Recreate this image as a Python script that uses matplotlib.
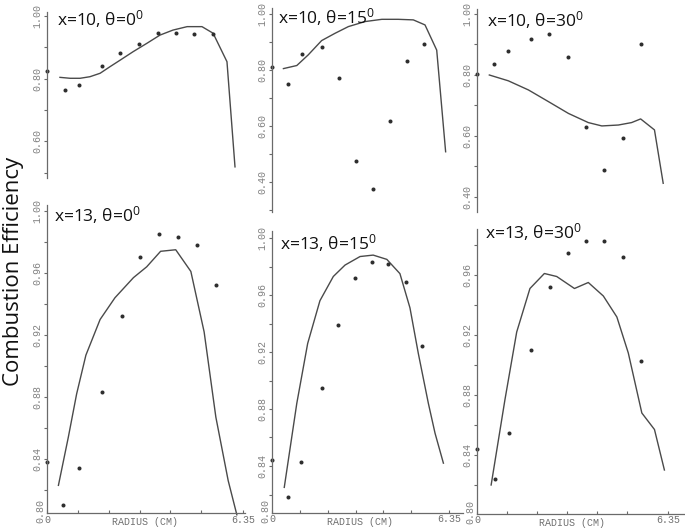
import matplotlib
matplotlib.use('Agg')
import matplotlib.pyplot as plt
from matplotlib.ticker import FixedLocator, FixedFormatter, MultipleLocator, NullFormatter

plt.rcParams['mathtext.fontset'] = 'custom'
plt.rcParams['mathtext.rm'] = 'Open Sans'
plt.rcParams['mathtext.it'] = 'Open Sans'
plt.rcParams['mathtext.bf'] = 'Open Sans'

# ---------------- data (radius in cm, combustion efficiency) ----------------
titles = ["x=10, θ=0$^{0}$", "x=10, θ=15$^{0}$", "x=10, θ=30$^{0}$",
          "x=13, θ=0$^{0}$", "x=13, θ=15$^{0}$", "x=13, θ=30$^{0}$"]

tl_pts_r = [0.0, 0.58, 1.04, 1.78, 2.37, 2.98, 3.60, 4.18, 4.76, 5.38]
tl_pts_v = [0.824, 0.764, 0.780, 0.840, 0.882, 0.911, 0.946, 0.946, 0.942, 0.942]
tl_crv_r = [0.42, 0.75, 1.07, 1.39, 1.72, 2.04, 2.37, 2.79, 3.24, 3.66, 4.08, 4.54, 5.02, 5.38, 5.83, 6.09]
tl_crv_v = [0.804, 0.801, 0.801, 0.806, 0.817, 0.838, 0.859, 0.886, 0.913, 0.939, 0.955, 0.966, 0.966, 0.945, 0.854, 0.518]

tm_pts_r = [0.0, 0.59, 1.06, 1.78, 2.40, 3.01, 3.63, 4.25, 4.85, 5.46]
tm_pts_v = [0.812, 0.750, 0.857, 0.881, 0.773, 0.475, 0.374, 0.619, 0.833, 0.892]
tm_crv_r = [0.41, 0.89, 1.30, 1.78, 2.26, 2.74, 3.34, 3.94, 4.53, 5.07, 5.49, 5.91, 6.23]
tm_crv_v = [0.805, 0.816, 0.854, 0.905, 0.931, 0.955, 0.973, 0.981, 0.981, 0.979, 0.961, 0.871, 0.508]

tr_pts_r = [0.0, 0.57, 1.04, 1.78, 2.39, 3.01, 3.62, 4.23, 4.84, 5.44]
tr_pts_v = [0.803, 0.835, 0.880, 0.919, 0.933, 0.860, 0.630, 0.490, 0.592, 0.901]
tr_crv_r = [0.41, 1.04, 1.71, 2.37, 3.04, 3.70, 4.15, 4.70, 5.14, 5.44, 5.90, 6.19]
tr_crv_v = [0.800, 0.781, 0.751, 0.713, 0.674, 0.644, 0.633, 0.636, 0.644, 0.656, 0.620, 0.445]

bl_pts_r = [0.0, 0.53, 1.05, 1.78, 2.42, 3.02, 3.64, 4.25, 4.86, 5.48]
bl_pts_v = [0.838, 0.810, 0.834, 0.883, 0.932, 0.970, 0.985, 0.983, 0.978, 0.952]
bl_crv_r = [0.37, 0.69, 0.96, 1.26, 1.72, 2.20, 2.80, 3.23, 3.68, 4.17, 4.66, 5.09, 5.47, 5.87, 6.15]
bl_crv_v = [0.823, 0.854, 0.882, 0.907, 0.930, 0.944, 0.957, 0.964, 0.974, 0.975, 0.961, 0.922, 0.867, 0.826, 0.804]

bm_pts_r = [0.0, 0.59, 1.04, 1.78, 2.38, 2.98, 3.58, 4.17, 4.80, 5.39]
bm_pts_v = [0.844, 0.818, 0.843, 0.895, 0.939, 0.972, 0.983, 0.982, 0.969, 0.924]
bm_crv_r = [0.44, 0.89, 1.28, 1.72, 2.20, 2.62, 3.16, 3.63, 4.12, 4.59, 4.95, 5.25, 5.61, 5.85, 6.15]
bm_crv_v = [0.825, 0.884, 0.926, 0.956, 0.973, 0.981, 0.987, 0.988, 0.985, 0.975, 0.951, 0.919, 0.884, 0.863, 0.842]

br_pts_r = [0.0, 0.60, 1.06, 1.80, 2.42, 3.02, 3.62, 4.23, 4.84, 5.45]
br_pts_v = [0.844, 0.824, 0.855, 0.910, 0.952, 0.975, 0.983, 0.983, 0.972, 0.903]
br_crv_r = [0.47, 0.93, 1.32, 1.76, 2.24, 2.65, 3.24, 3.70, 4.20, 4.65, 5.03, 5.48, 5.90, 6.23]
br_crv_v = [0.820, 0.877, 0.922, 0.951, 0.961, 0.959, 0.951, 0.955, 0.946, 0.932, 0.908, 0.868, 0.857, 0.830]

top_ylabels = [0.40, 0.60, 0.80, 1.00]
bot_ylabels = [0.84, 0.88, 0.92, 0.96, 1.00]
x_ticks = [0, 1, 2, 3, 4, 5, 6.35]
x_ticklabels = ["0", "", "", "", "", "", "6.35"]

# ---------------- layout (pixels) ----------------
W, H = 685, 529
fig = plt.figure(figsize=(W / 100, H / 100), dpi=100)

# x0 px, px per cm, py of value 1.00, px per unit, ylim, xlim, title pos (x, baseline)
layout = [
    dict(x0=47, sx=30.87, y1=16, sy=313, ylim=(0.482, 1.013), xlim=(0, 6.5), t=(57, 25), bottom=False),
    dict(x0=272, sx=27.87, y1=14, sy=280, ylim=(0.293, 1.02), xlim=(0, 6.5), t=(278, 23), bottom=False),
    dict(x0=477, sx=30.08, y1=14, sy=305, ylim=(0.35, 1.015), xlim=(0, 6.5), t=(487, 26), bottom=False),
    dict(x0=47, sx=30.87, y1=211, sy=1550, ylim=(0.805, 1.004), xlim=(0, 6.42), t=(54, 221), bottom=True),
    dict(x0=272, sx=27.87, y1=238, sy=1425, ylim=(0.807, 1.005), xlim=(0, 6.85), t=(280, 249), bottom=True),
    dict(x0=477, sx=30.08, y1=215, sy=1500, ylim=(0.801, 0.991), xlim=(0, 6.9), t=(485, 238), bottom=True),
]

series = [
    (tl_pts_r, tl_pts_v, tl_crv_r, tl_crv_v),
    (tm_pts_r, tm_pts_v, tm_crv_r, tm_crv_v),
    (tr_pts_r, tr_pts_v, tr_crv_r, tr_crv_v),
    (bl_pts_r, bl_pts_v, bl_crv_r, bl_crv_v),
    (bm_pts_r, bm_pts_v, bm_crv_r, bm_crv_v),
    (br_pts_r, br_pts_v, br_crv_r, br_crv_v),
]

axis_col = '#6a6a6a'
lab_col = '#808080'
mono = 'Liberation Mono'

for i, (L, (pr, pv, cr, cv)) in enumerate(zip(layout, series)):
    y0, y1v = L['ylim']
    py_top = L['y1'] + (1 - y1v) * L['sy']
    py_bot = L['y1'] + (1 - y0) * L['sy']
    width = (L['xlim'][1] - L['xlim'][0]) * L['sx']
    ax = fig.add_axes([L['x0'] / W, 1 - py_bot / H, width / W, (py_bot - py_top) / H])
    ax.patch.set_alpha(0)
    ax.set_xlim(*L['xlim'])
    ax.set_ylim(*L['ylim'])
    ax.plot(cr, cv, color='#4a4a4a', lw=1.0, clip_on=False)
    ax.plot(pr, pv, 'o', color='#2e2e2e', ms=2.9, mec='none', clip_on=False)

    for s in ['top', 'right']:
        ax.spines[s].set_visible(False)
    ax.spines['left'].set_color(axis_col)
    ax.spines['left'].set_linewidth(0.9)

    if L['bottom']:
        ax.spines['bottom'].set_color(axis_col)
        ax.spines['bottom'].set_linewidth(0.9)
        ax.yaxis.set_major_locator(FixedLocator(bot_ylabels))
        ax.yaxis.set_minor_locator(MultipleLocator(0.02))
        ax.xaxis.set_major_locator(FixedLocator(x_ticks))
        ax.xaxis.set_major_formatter(FixedFormatter(x_ticklabels))
        ax.tick_params(axis='x', direction='in', length=2.5, width=0.8, color=axis_col,
                       labelsize=7.2, labelcolor='#707070', pad=1)
        for t in ax.get_xticklabels():
            t.set_family(mono)
        ax.annotate('RADIUS (CM)', xy=(3.17, 0), xycoords=('data', 'axes fraction'),
                    xytext=(0, -9), textcoords='offset pixels', ha='center', va='center',
                    fontsize=7.2, family=mono, color='#707070')
        # bottom label sitting at the axis corner, as in the scan
        ax.annotate('0.80', xy=(0, 0), xycoords='axes fraction', xytext=(-7, 2),
                    textcoords='offset pixels', rotation=90, ha='center', va='center',
                    fontsize=7.2, family=mono, color=lab_col)
    else:
        ax.spines['bottom'].set_visible(False)
        ax.yaxis.set_major_locator(FixedLocator(top_ylabels))
        ax.yaxis.set_minor_locator(MultipleLocator(0.1))
        ax.set_xticks([])

    ax.yaxis.set_major_formatter(plt.FuncFormatter(lambda v, p: f"{v:.2f}"))
    ax.yaxis.set_minor_formatter(NullFormatter())
    ax.tick_params(axis='y', which='both', direction='out', length=2.5, width=0.8,
                   color=axis_col, labelsize=7.2, labelcolor=lab_col, pad=0.8,
                   labelrotation=90)
    for t in ax.get_yticklabels():
        t.set_family(mono)
        t.set_va('center')

    fig.text(L['t'][0] / W, 1 - L['t'][1] / H, titles[i], fontsize=12.5,
             family='Open Sans', va='baseline', ha='left', color='#111111')

fig.text(14 / W, 1 - 271 / H, 'Combustion Efficiency', rotation=90, fontsize=16,
         family='Open Sans', ha='center', va='center', color='#111111')

fig.savefig('out.png', dpi=100)
